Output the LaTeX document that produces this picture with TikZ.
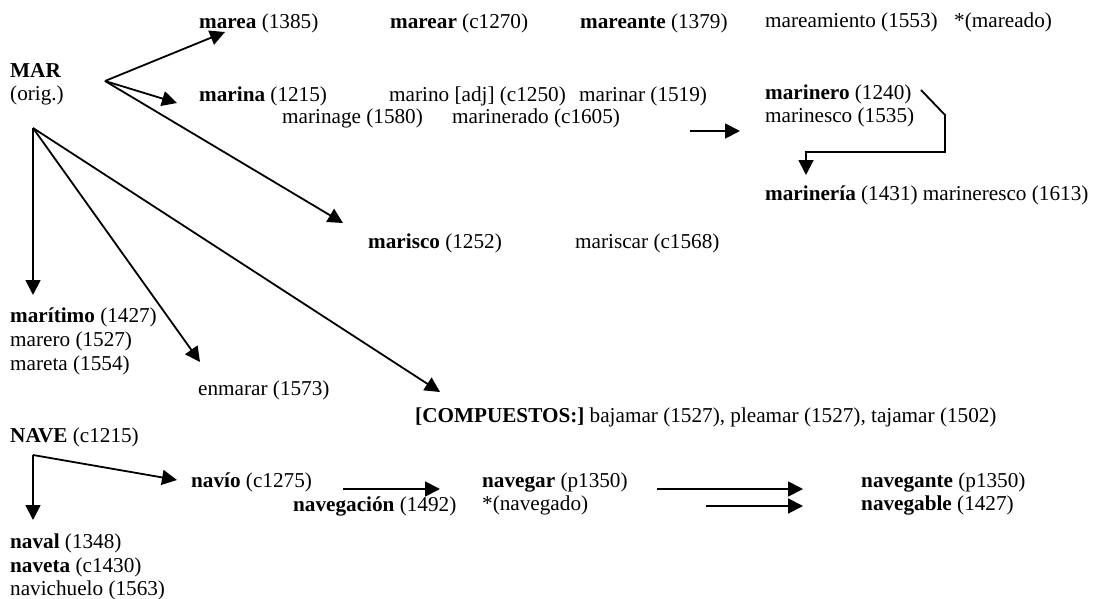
\documentclass[tikz,border=0pt]{standalone}
\usepackage{fontspec}
\setmainfont{Liberation Serif}
\usetikzlibrary{arrows.meta}
\begin{document}
\begin{tikzpicture}[x=1pt,y=-1pt,
  lbl/.style={anchor=base west, inner sep=0pt, font=\fontsize{21.2}{24.5}\selectfont},
  arr/.style={draw, line width=1.8pt, -{Triangle[length=15pt,width=15pt]}}]
\useasboundingbox (0,0) rectangle (1094,599);
% top row
\node[lbl] (marea) at (199,29) {\textbf{marea} (1385)};
\node[lbl] (marear) at (390,29) {\textbf{marear} (c1270)};
\node[lbl] (mareante) at (580,29) {\textbf{mareante} (1379)};
\node[lbl] (mareamiento) at (765,28) {mareamiento (1553)};
\node[lbl] (mareado) at (954,28) {*(mareado)};
% MAR
\node[lbl] (mar) at (10,78) {\textbf{MAR}};
\node[lbl] (orig) at (10,101) {(orig.)};
% marina row
\node[lbl] (marina) at (199,102) {\textbf{marina} (1215)};
\node[lbl] (marino) at (389,102) {marino [adj] (c1250)};
\node[lbl] (marinar) at (579,102) {marinar (1519)};
\node[lbl] (marinero) at (765,100) {\textbf{marinero} (1240)};
\node[lbl] (marinage) at (282,124) {marinage (1580)};
\node[lbl] (marinerado) at (452,124) {marinerado (c1605)};
\node[lbl] (marinesco) at (765,123) {marinesco (1535)};
\node[lbl] (marineria) at (765,200) {\textbf{marinería} (1431) marineresco (1613)};
% marisco
\node[lbl] (marisco) at (368,248) {\textbf{marisco} (1252)};
\node[lbl] (mariscar) at (575,248) {mariscar (c1568)};
% maritimo
\node[lbl] (maritimo) at (10,322) {\textbf{marítimo} (1427)};
\node[lbl] (marero) at (10,346) {marero (1527)};
\node[lbl] (mareta) at (10,370) {mareta (1554)};
\node[lbl] (enmarar) at (198,395) {enmarar (1573)};
\node[lbl] (compuestos) at (415,422) {\textbf{[COMPUESTOS:]} bajamar (1527), pleamar (1527), tajamar (1502)};
% NAVE
\node[lbl] (nave) at (10,442) {\textbf{NAVE} (c1215)};
\node[lbl] (navio) at (191,487) {\textbf{navío} (c1275)};
\node[lbl] (navegar) at (482,487) {\textbf{navegar} (p1350)};
\node[lbl] (navegante) at (861,487) {\textbf{navegante} (p1350)};
\node[lbl] (navegacion) at (293,511) {\textbf{navegación} (1492)};
\node[lbl] (navegado) at (482,510) {*(navegado)};
\node[lbl] (navegable) at (861,510) {\textbf{navegable} (1427)};
\node[lbl] (naval) at (10,548) {\textbf{naval} (1348)};
\node[lbl] (naveta) at (10,572) {\textbf{naveta} (c1430)};
\node[lbl] (navichuelo) at (10,595) {navichuelo (1563)};
% coordinates
\coordinate (v1) at (105,81);
\coordinate (v2) at (33,128);
\coordinate (v3) at (33,455);
\coordinate (tMarea) at (225,32);
\coordinate (tMarina) at (177,103);
\coordinate (tMarisco) at (343,223);
\coordinate (tMaritimo) at (33,295);
\coordinate (tEnmarar) at (200,362);
\coordinate (tComp) at (440,392);
\coordinate (sMinero) at (690,131);
\coordinate (tMinero) at (740,131);
\coordinate (b1) at (921,90);
\coordinate (b2) at (945,115);
\coordinate (b3) at (945,152);
\coordinate (b4) at (806,152);
\coordinate (tMineria) at (806,175);
\coordinate (tNaval) at (33,520);
\coordinate (tNavio) at (177,480);
\coordinate (sNavegar) at (343,489);
\coordinate (tNavegar) at (440,489);
\coordinate (sNavegante) at (657,489);
\coordinate (tNavegante) at (803,489);
\coordinate (sNavegable) at (706,506);
\coordinate (tNavegable) at (803,506);
% connectors
\draw[arr] (v1) -- (tMarea);
\draw[arr] (v1) -- (tMarina);
\draw[arr] (v1) -- (tMarisco);
\draw[arr] (v2) -- (tMaritimo);
\draw[arr] (v2) -- (tEnmarar);
\draw[arr] (v2) -- (tComp);
\draw[arr] (sMinero) -- (tMinero);
\draw[arr] (b1) -- (b2) -- (b3) -- (b4) -- (tMineria);
\draw[arr] (v3) -- (tNaval);
\draw[arr] (v3) -- (tNavio);
\draw[arr] (sNavegar) -- (tNavegar);
\draw[arr] (sNavegante) -- (tNavegante);
\draw[arr] (sNavegable) -- (tNavegable);
\end{tikzpicture}
\end{document}
